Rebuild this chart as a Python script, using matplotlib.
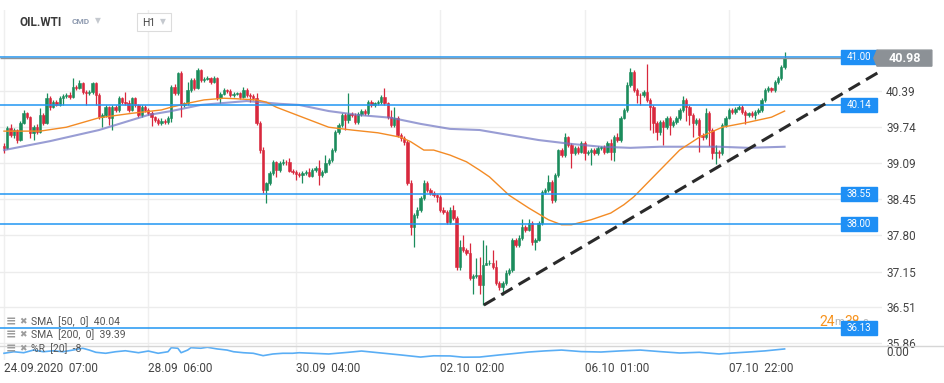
import numpy as np
import matplotlib
matplotlib.use('Agg')
import matplotlib.pyplot as plt
from matplotlib.patches import Rectangle, Polygon
from matplotlib.lines import Line2D

plt.rcParams['font.family'] = ['Roboto', 'DejaVu Sans']

# hourly candles, open = previous close
first_open = 39.40
closes = [
    39.37, 39.73, 39.60, 39.69, 39.51, 39.82, 39.99, 39.92, 39.64, 39.74,
    39.65, 39.96, 39.82, 40.26, 40.10, 40.19, 40.14, 40.26, 40.30, 40.32,
    40.28, 40.46, 40.44, 40.53, 40.37, 40.35, 40.37, 40.53, 40.32, 39.92,
    39.96, 40.10, 39.91, 40.10, 40.05, 40.26, 40.19, 40.17, 40.05, 40.26,
    40.14, 39.96, 40.10, 40.05, 39.99, 39.92, 39.87, 39.82, 39.85, 39.83,
    39.91, 40.46, 40.35, 40.71, 40.14, 40.17, 40.41, 40.59, 40.44, 40.77,
    40.59, 40.61, 40.62, 40.55, 40.62, 40.26, 40.34, 40.41, 40.39, 40.32,
    40.34, 40.35, 40.28, 40.41, 40.32, 40.30, 40.26, 39.82, 39.33, 38.61,
    38.74, 38.92, 39.12, 38.97, 39.10, 39.12, 39.11, 38.96, 38.94, 38.90,
    38.88, 38.92, 38.94, 38.87, 38.97, 39.01, 38.88, 38.94, 39.10, 39.15,
    39.33, 39.65, 39.78, 39.96, 39.87, 39.98, 39.96, 39.83, 39.98, 40.03,
    39.99, 40.19, 40.14, 40.17, 40.19, 40.28, 40.17, 39.92, 39.78, 39.91,
    39.60, 39.55, 39.47, 38.74, 37.95, 38.16, 38.26, 38.47, 38.74, 38.61,
    38.56, 38.52, 38.49, 38.26, 38.22, 38.04, 38.26, 38.11, 37.23, 37.59,
    37.54, 37.48, 37.04, 37.07, 37.09, 36.91, 37.27, 37.30, 37.31, 37.23,
    36.95, 36.87, 36.95, 37.13, 37.18, 37.72, 37.63, 37.75, 37.95, 37.90,
    38.02, 37.68, 37.72, 38.02, 38.58, 38.61, 38.76, 38.43, 38.88, 39.33,
    39.24, 39.56, 39.42, 39.28, 39.37, 39.30, 39.46, 39.28, 39.30, 39.33,
    39.28, 39.37, 39.38, 39.30, 39.46, 39.30, 39.56, 39.51, 39.91, 40.05,
    40.50, 40.73, 40.41, 40.32, 40.31, 40.37, 40.23, 40.10, 39.82, 39.65,
    39.83, 39.74, 39.91, 39.78, 39.83, 39.91, 40.05, 40.23, 40.10, 39.96,
    39.82, 39.87, 39.60, 39.56, 39.99, 39.69, 39.28, 39.30, 39.28, 39.78,
    39.91, 40.05, 40.01, 40.07, 40.10, 40.01, 39.96, 39.99, 39.96, 40.01,
    40.05, 40.23, 40.41, 40.44, 40.41, 40.55, 40.62, 40.82, 40.98,
]
highs = [
    39.45, 39.77, 39.80, 39.72, 39.71, 39.86, 40.04, 40.02, 39.94, 39.78,
    39.80, 40.08, 39.99, 40.35, 40.30, 40.22, 40.23, 40.30, 40.33, 40.36,
    40.38, 40.62, 40.50, 40.58, 40.55, 40.40, 40.40, 40.56, 40.55, 40.35,
    39.99, 40.14, 40.12, 40.13, 40.14, 40.30, 40.28, 40.37, 40.22, 40.28,
    40.28, 40.16, 40.14, 40.13, 40.08, 40.03, 39.95, 39.90, 39.90, 39.88,
    39.94, 40.50, 40.52, 40.73, 40.74, 40.20, 40.55, 40.62, 40.62, 40.80,
    40.79, 40.64, 40.65, 40.64, 40.66, 40.64, 40.37, 40.44, 40.43, 40.42,
    40.37, 40.38, 40.38, 40.46, 40.44, 40.35, 40.33, 40.35, 39.86, 39.38,
    38.76, 38.96, 39.15, 39.14, 39.13, 39.17, 39.15, 39.19, 38.99, 38.97,
    38.93, 38.95, 38.97, 39.01, 39.00, 39.05, 39.15, 38.97, 39.24, 39.19,
    39.37, 39.69, 39.82, 40.00, 39.99, 40.35, 40.01, 39.99, 40.01, 40.06,
    40.06, 40.23, 40.22, 40.20, 40.22, 40.31, 40.44, 40.20, 40.05, 40.10,
    39.94, 39.64, 39.58, 39.51, 38.79, 38.20, 38.30, 38.51, 38.79, 38.77,
    38.65, 38.59, 38.55, 38.52, 38.30, 38.26, 38.30, 38.35, 38.14, 37.72,
    37.81, 37.57, 37.66, 37.10, 37.40, 37.42, 37.72, 37.63, 37.35, 37.54,
    37.36, 36.99, 36.99, 37.17, 37.22, 37.75, 37.76, 37.80, 38.10, 37.99,
    38.10, 38.06, 37.76, 38.06, 38.62, 38.65, 38.88, 38.79, 38.92, 39.35,
    39.37, 39.64, 39.59, 39.45, 39.40, 39.41, 39.49, 39.49, 39.34, 39.37,
    39.37, 39.40, 39.41, 39.42, 39.49, 39.52, 39.60, 39.64, 39.95, 40.09,
    40.55, 40.80, 40.77, 40.44, 40.35, 40.40, 40.88, 40.26, 40.14, 39.85,
    39.87, 39.87, 39.94, 39.94, 39.87, 39.94, 40.08, 40.30, 40.26, 40.13,
    39.99, 39.90, 39.90, 39.64, 40.08, 40.03, 39.72, 39.42, 39.33, 39.81,
    39.94, 40.08, 40.09, 40.10, 40.13, 40.13, 40.04, 40.02, 40.03, 40.04,
    40.08, 40.26, 40.44, 40.48, 40.47, 40.58, 40.66, 40.86, 41.09,
]
lows = [
    39.28, 39.35, 39.57, 39.55, 39.46, 39.49, 39.80, 39.88, 39.55, 39.51,
    39.62, 39.63, 39.78, 39.80, 40.05, 40.08, 40.12, 40.12, 40.14, 40.26,
    40.25, 40.26, 40.40, 40.42, 40.33, 40.14, 40.32, 40.34, 40.14, 39.89,
    39.74, 39.93, 39.78, 39.69, 40.01, 40.02, 40.16, 40.14, 40.01, 40.03,
    40.10, 39.93, 39.93, 40.02, 39.96, 39.76, 39.83, 39.78, 39.78, 39.80,
    39.80, 39.83, 40.32, 40.32, 39.92, 40.10, 40.14, 40.38, 40.40, 40.42,
    40.55, 40.56, 40.58, 40.52, 40.53, 40.23, 40.17, 40.31, 40.36, 40.29,
    40.29, 40.31, 40.25, 40.26, 40.29, 40.19, 40.23, 39.78, 39.28, 38.56,
    38.38, 38.70, 38.88, 38.85, 38.94, 39.06, 39.07, 38.93, 38.90, 38.79,
    38.84, 38.74, 38.89, 38.84, 38.84, 38.94, 38.70, 38.85, 38.91, 39.06,
    39.12, 39.30, 39.62, 39.75, 39.69, 39.82, 39.92, 39.80, 39.80, 39.95,
    39.96, 39.96, 40.10, 40.11, 40.14, 40.16, 40.14, 39.89, 39.74, 39.75,
    39.56, 39.50, 39.42, 38.70, 37.81, 37.59, 38.12, 38.22, 38.44, 38.57,
    38.52, 38.48, 38.40, 38.22, 38.18, 38.00, 38.00, 38.07, 37.18, 37.18,
    37.50, 37.44, 37.00, 36.75, 37.03, 36.75, 36.55, 37.26, 37.26, 37.19,
    36.91, 36.82, 36.73, 36.91, 37.09, 37.15, 37.59, 37.60, 37.71, 37.86,
    37.87, 37.63, 37.54, 37.69, 37.99, 38.55, 38.58, 38.38, 38.40, 38.85,
    39.20, 39.21, 39.38, 39.01, 39.24, 39.26, 39.27, 39.15, 39.25, 39.06,
    39.24, 39.25, 39.33, 39.26, 39.27, 39.15, 39.13, 39.47, 39.48, 39.88,
    40.01, 40.47, 40.37, 40.17, 40.14, 40.28, 40.19, 39.69, 39.64, 39.51,
    39.60, 39.42, 39.71, 39.60, 39.75, 39.80, 39.87, 40.01, 39.85, 39.78,
    39.56, 39.78, 39.30, 39.51, 39.53, 39.40, 39.17, 39.08, 39.19, 39.24,
    39.75, 39.88, 39.97, 39.98, 40.04, 39.98, 39.80, 39.92, 39.93, 39.89,
    39.98, 40.02, 40.20, 40.38, 40.37, 40.38, 40.52, 40.59, 40.79,
]

# moving averages, read at candle positions
sma50_idx = [0, 11, 19, 29, 39, 48, 51, 56, 61, 67, 71, 77, 80, 83, 87, 91, 95, 99, 106, 114,
             121, 124, 128, 131, 136, 141, 145, 148, 154, 160, 166, 170, 173, 179, 185, 189, 192,
             194, 197, 206, 212, 219, 227, 234, 238]
sma50_val = [39.67, 39.67, 39.74, 39.91, 39.99, 40.05, 40.10, 40.17, 40.23, 40.26, 40.25, 40.23,
             40.19, 40.10, 40.01, 39.92, 39.83, 39.74, 39.69, 39.64, 39.56, 39.48, 39.33, 39.33,
             39.24, 39.12, 38.97, 38.85, 38.52, 38.29, 38.08, 37.99, 37.99, 38.08, 38.20, 38.35,
             38.49, 38.61, 38.79, 39.33, 39.56, 39.74, 39.83, 39.92, 40.03]
sma200_idx = [0, 14, 29, 44, 51, 60, 66, 74, 78, 84, 90, 99, 108, 118, 127, 136, 145, 154, 163,
              173, 182, 191, 200, 209, 218, 227, 238]
sma200_val = [39.33, 39.49, 39.69, 39.96, 40.03, 40.14, 40.17, 40.21, 40.19, 40.16, 40.14, 40.03,
              39.96, 39.91, 39.80, 39.71, 39.69, 39.60, 39.51, 39.44, 39.39, 39.37, 39.39, 39.39,
              39.39, 39.37, 39.39]

# Williams %R panel
wr_idx = [0, 3, 6, 9, 12, 15, 18, 21, 24, 26, 28, 31, 34, 37, 41, 44, 47, 50, 51, 53, 54, 56, 57,
          60, 62, 65, 68, 70, 73, 76, 79, 82, 85, 88, 90, 99, 105, 109, 115, 121, 127, 131, 136,
          140, 145, 151, 155, 160, 165, 170, 176, 182, 188, 194, 200, 206, 212, 218, 222, 227,
          232, 238]
wr_val = [-52, -41, -48, -29, -41, -34, -41, -29, -16, -29, -45, -52, -41, -34, -48, -36, -52, -41,
          -12, -16, -48, -29, -12, -16, -9, -21, -29, -41, -48, -52, -69, -57, -52, -52, -48, -57,
          -45, -36, -50, -64, -79, -70, -71, -80, -79, -64, -55, -43, -35, -29, -40, -43, -35, -29,
          -40, -50, -45, -57, -50, -43, -35, -21]

levels = [41.00, 40.14, 38.55, 38.00, 36.13]
last_price = 40.98
price_ticks = [40.39, 39.74, 39.09, 38.45, 37.80, 37.15, 36.51, 35.86]
time_idx = [0, 44, 89, 133, 177, 221]
time_labels = ['24.09.2020  07:00', '28.09  06:00', '30.09  04:00',
               '02.10  02:00', '06.10  01:00', '07.10  22:00']
trend_x = [146.3, 266.5]
trend_y = [36.55, 40.72]
legend_rows = ['SMA  [50,  0]  40.04', 'SMA  [200,  0]  39.39', '%R  [20]  -8']

W, H = 945, 383


def fx(px):
    return px / W


def fy(py):
    return 1 - py / H


fig = plt.figure(figsize=(W / 100, H / 100), dpi=100)
ax = fig.add_axes([0, fy(346), fx(882), fy(10) - fy(346)])
ax2 = fig.add_axes([0, fy(360), fx(882), fy(346) - fy(360)])
ax2.set_facecolor('none')

xmin, xmax = -1.22, 267.7
ax.set_xlim(xmin, xmax)
ax.set_ylim(35.815, 41.843)
ax2.set_xlim(xmin, xmax)
ax2.set_ylim(-100, 0)

for a in (ax, ax2):
    for s in a.spines.values():
        s.set_visible(False)
    a.set_xticks(time_idx)
    a.grid(axis='x', color='#efefef', lw=1)
    a.set_axisbelow(True)

ax.set_yticks(price_ticks)
ax.set_yticklabels([f'{v:.2f}' for v in price_ticks])
ax.grid(axis='y', color='#ececec', lw=1)
ax.tick_params(axis='y', left=False, labelleft=False, right=False, labelright=True,
               length=0, pad=3, labelsize=8.5, labelcolor='#444444')
ax.tick_params(axis='x', length=0, labelbottom=False)

ax2.set_yticks([])
ax2.set_xticklabels(time_labels)
ax2.tick_params(axis='x', length=0, pad=1.5, labelsize=8.5, labelcolor='#444444')
for lbl in ax2.get_xticklabels():
    lbl.set_ha('left')

# candles
c = np.array(closes)
o = np.concatenate([[first_open], c[:-1]])
x = np.arange(len(c))
col = np.where(c >= o, '#1b8c5c', '#d8283d')
ax.vlines(x, lows, highs, colors=col, lw=0.9, zorder=3)
ax.bar(x, np.abs(c - o), bottom=np.minimum(o, c), width=0.72, color=col,
       edgecolor=col, lw=0.4, zorder=3)

# moving averages
ax.plot(sma200_idx, sma200_val, color='#6e74c2', lw=1.5, alpha=0.7, zorder=4)
ax.plot(sma50_idx, sma50_val, color='#f38b25', lw=1.0, zorder=4)

# support / resistance levels with tags
box_x0, box_w, box_h = 255.2, 10.98, 0.2512
ax.hlines(levels, xmin, box_x0, color='#2196f3', lw=1.3, alpha=0.85, zorder=5)
for lv in levels:
    ax.add_patch(Rectangle((box_x0, lv - box_h / 2), box_w, box_h, color='#1e8ff5',
                           zorder=7, clip_on=False))
    ax.text(box_x0 + box_w / 2, lv, f'{lv:.2f}', color='white', fontsize=7,
            ha='center', va='center', zorder=8, clip_on=False)

# current price line and tag
ax.hlines(last_price, xmin, 265.2, color='#8f9499', lw=1, zorder=5)
tag_h = 0.1435
ax.add_patch(Polygon([(265.2, last_price), (266.2, last_price + tag_h),
                      (282.9, last_price + tag_h), (282.9, last_price - tag_h),
                      (266.2, last_price - tag_h)], closed=True, color='#8c9196',
                     zorder=7, clip_on=False))
ax.text(274.6, last_price, f'{last_price:.2f}', color='white', fontsize=9, weight='bold',
        ha='center', va='center', zorder=8, clip_on=False)

# trend line
ax.plot(trend_x, trend_y, color='#2a2a2a', lw=2.2, ls=(0, (4.3, 2.3)), zorder=6)

# %R line
ax2.plot(wr_idx, wr_val, color='#5aaef5', lw=1.2)
fig.text(fx(886), fy(352), '0.00', fontsize=8.5, color='#444444', va='center')

# separator between price and %R panels
fig.add_artist(Line2D([0, 1], [fy(346), fy(346)], color='#d6d6d6', lw=1))

# countdown (partly hidden behind the 36.13 tag)
for px, txt, clr, sz in [(819, '24', '#f7931e', 10), (834, 'm', '#b5b5b5', 8),
                         (844, '38', '#f7931e', 10), (862, 's', '#b5b5b5', 8)]:
    ax.text(fx(px), fy(322), txt, color=clr, fontsize=sz, va='center',
            transform=fig.transFigure, zorder=6, clip_on=False)

# indicator legend
for row, py in zip(legend_rows, [322, 335, 349]):
    fig.text(fx(6), fy(py), '\u2261', fontsize=9, color='#9c9c9c', va='center', weight='bold')
    fig.text(fx(19), fy(py), '\u2716', fontsize=6.5, color='#9c9c9c', va='center')
    fig.text(fx(31), fy(py), row, fontsize=7.5, color='#555555', va='center')

# header
fig.text(fx(20), fy(22), 'OIL.WTI', fontsize=8.5, weight='bold', color='#3a3a3a', va='center')
fig.text(fx(72), fy(22), 'CMD', fontsize=6, weight='bold', color='#8f9bb0', va='center')
fig.text(fx(95), fy(21), '\u25bc', fontsize=5.5, color='#c5c9cf', va='center')
fig.add_artist(Rectangle((fx(137), fy(31)), fx(34), 18 / H, transform=fig.transFigure,
                         facecolor='white', edgecolor='#dcdcdc', lw=0.8))
fig.text(fx(142), fy(22.5), 'H1', fontsize=7.5, color='#444444', va='center')
fig.text(fx(160), fy(21.5), '\u25bc', fontsize=5.5, color='#c5c9cf', va='center')

fig.savefig('out.png', dpi=100)
